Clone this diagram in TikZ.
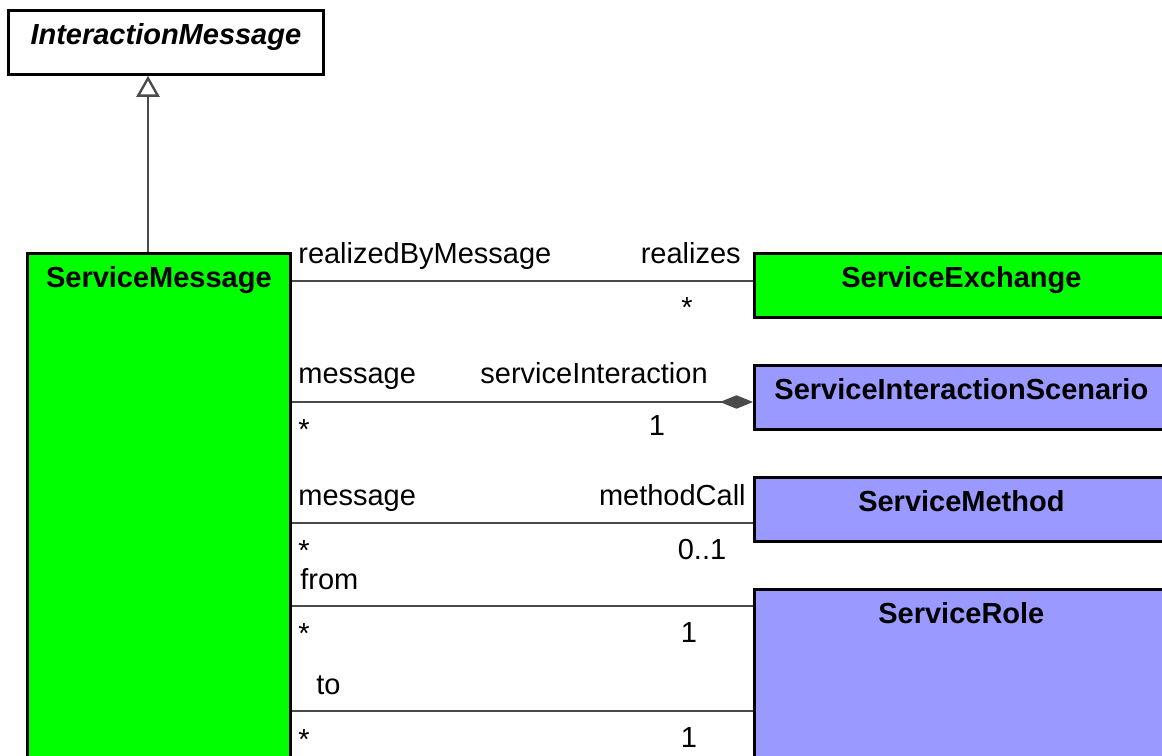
\documentclass[tikz,border=0pt]{standalone}
\usepackage{fontspec}
\setmainfont{Liberation Sans}
\usetikzlibrary{arrows.meta,positioning,calc}
\definecolor{classgreen}{HTML}{00FF00}
\definecolor{classblue}{HTML}{9999FF}
\definecolor{linegray}{HTML}{4A4A4A}
\newcommand{\umlfont}{\fontsize{16.5}{20}\selectfont}

\begin{document}
\begin{tikzpicture}[
  x=0.02cm, y=-0.02cm,
  font=\umlfont,
  classbox/.style={rectangle, draw=black, line width=1.6pt, anchor=north west, inner sep=0pt, text height=0.68cm, text depth=0.6cm, minimum width=8.28cm, font=\umlfont\bfseries},
  greenbox/.style={classbox, fill=classgreen},
  bluebox/.style={classbox, fill=classblue},
  assoc/.style={draw=linegray, line width=1.35pt},
  gen/.style={assoc, -{Triangle[open, fill=white, length=0.42cm, width=0.46cm]}},
  comp/.style={assoc, {Diamond[length=0.66cm, width=0.27cm]}-},
  role/.style={anchor=base west, inner sep=0pt},
  rolend/.style={anchor=base east, inner sep=0pt},
  mult/.style={anchor=base, inner sep=0pt},
]
\useasboundingbox (0,0) rectangle (1162,756);
\clip (0,0) rectangle (1162,756);

% classes
\node[classbox, minimum width=6.3cm, font=\umlfont\bfseries\itshape] (imsg) at (7,9) {InteractionMessage};
\node[greenbox, minimum width=5.26cm, text depth=10cm] (smsg) at (26,252) {ServiceMessage};
\node[greenbox] (sexch) at (753,252) {ServiceExchange};
\node[bluebox] (sscen) at (753,364) {ServiceInteractionScenario};
\node[bluebox] (smeth) at (753,476) {ServiceMethod};
\node[bluebox, text depth=10cm] (srole) at (753,588) {ServiceRole};

% generalization
\coordinate (g) at (148,0);
\draw[gen] (smsg.north -| g) -- (imsg.south -| g);

% associations
\coordinate (a1) at (0,281);
\coordinate (a2) at (0,402);
\coordinate (a3) at (0,523);
\coordinate (a4) at (0,606);
\coordinate (a5) at (0,711);
\draw[assoc] (smsg.east |- a1) -- (sexch.west |- a1);
\draw[comp] (sscen.west |- a2) -- (smsg.east |- a2);
\draw[assoc] (smsg.east |- a3) -- (smeth.west |- a3);
\draw[assoc] (smsg.east |- a4) -- (srole.west |- a4);
\draw[assoc] (smsg.east |- a5) -- (srole.west |- a5);

% role names and multiplicities
\node[role] (r1a) at (298,264) {realizedByMessage};
\node[rolend] (r1b) at (741,264) {realizes};
\node[mult] (m1b) at (687,318) {*};

\node[role] (r2a) at (298,384) {message};
\node[rolend] (r2b) at (708,384) {serviceInteraction};
\node[role] (m2a) at (298,439) {*};
\node[mult] (m2b) at (657,436) {1};

\node[role] (r3a) at (298,505) {message};
\node[rolend] (r3b) at (746,505) {methodCall};
\node[role] (m3a) at (298,560) {*};
\node[mult] (m3b) at (702,559) {0..1};

\node[role] (r4a) at (300,589) {from};
\node[role] (m4a) at (298,643) {*};
\node[mult] (m4b) at (689,642) {1};

\node[role] (r5a) at (316,694) {to};
\node[role] (m5a) at (298,749) {*};
\node[mult] (m5b) at (689,747) {1};

\end{tikzpicture}
\end{document}
